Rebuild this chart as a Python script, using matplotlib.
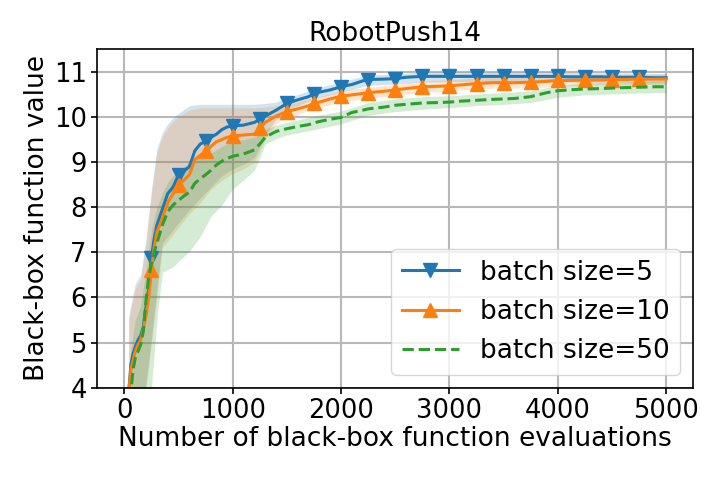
import matplotlib
matplotlib.use("Agg")
import matplotlib.pyplot as plt
import numpy as np

# line data (evaluations)
xs = [40, 60, 80, 100, 125, 150, 175, 200, 225, 250, 275, 300, 350, 400, 450, 500,
      550, 600, 650, 700, 750, 800, 850, 900, 950, 1000, 1100, 1200, 1250, 1300,
      1400, 1500, 1600, 1700, 1750, 1800, 1900, 2000, 2100, 2200, 2250, 2400, 2500,
      2600, 2750, 2900, 3000, 3100, 3250, 3400, 3500, 3600, 3750, 3900, 4000, 4100,
      4250, 4400, 4500, 4600, 4750, 4900, 5000]

mean_b5 = [3.9, 4.5, 4.75, 4.9, 5.05, 5.15, 5.35, 5.8, 6.2, 6.87, 7.3, 7.6, 7.95, 8.3, 8.45, 8.72,
           8.8, 8.9, 9.25, 9.4, 9.46, 9.55, 9.62, 9.72, 9.78, 9.8, 9.82, 9.88, 9.95, 10.02,
           10.15, 10.3, 10.38, 10.45, 10.52, 10.55, 10.6, 10.67, 10.72, 10.8, 10.83, 10.84, 10.85,
           10.88, 10.9, 10.9, 10.9, 10.9, 10.9, 10.9, 10.9, 10.9, 10.9, 10.9, 10.9, 10.89,
           10.89, 10.89, 10.88, 10.88, 10.88, 10.87, 10.87]

mean_b10 = [3.9, 4.4, 4.6, 4.8, 4.95, 5.05, 5.3, 5.6, 6.0, 6.61, 7.1, 7.45, 7.75, 8.1, 8.3, 8.5,
            8.6, 8.72, 9.05, 9.15, 9.24, 9.35, 9.45, 9.5, 9.55, 9.58, 9.6, 9.62, 9.75, 9.88,
            10.02, 10.12, 10.18, 10.25, 10.3, 10.33, 10.4, 10.46, 10.49, 10.52, 10.54, 10.57, 10.6,
            10.63, 10.67, 10.68, 10.69, 10.71, 10.74, 10.76, 10.76, 10.76, 10.77, 10.79, 10.81, 10.81,
            10.82, 10.82, 10.83, 10.83, 10.84, 10.84, 10.84]

mean_b50 = [3.0, 3.9, 4.4, 4.65, 4.8, 4.95, 5.25, 5.95, 6.45, 6.75, 7.0, 7.2, 7.6, 7.9, 8.05, 8.15,
            8.25, 8.33, 8.53, 8.63, 8.72, 8.82, 8.94, 9.02, 9.08, 9.13, 9.18, 9.27, 9.4, 9.55,
            9.68, 9.74, 9.79, 9.83, 9.87, 9.9, 9.95, 9.99, 10.1, 10.15, 10.18, 10.22, 10.26,
            10.28, 10.31, 10.32, 10.33, 10.35, 10.37, 10.39, 10.4, 10.41, 10.45, 10.54, 10.58, 10.6,
            10.62, 10.63, 10.64, 10.65, 10.66, 10.67, 10.67]

# band data
bx = [40, 100, 150, 200, 250, 300, 350, 400, 450, 500, 600, 700, 800, 900, 1000, 1100, 1200,
      1300, 1400, 1500, 1750, 2000, 2250, 2500, 2750, 3000, 3250, 3500, 3750, 4000, 4250, 4500,
      4750, 5000]

hi_b5 = [5.6, 6.3, 6.5, 7.3, 8.4, 9.3, 9.65, 9.85, 9.98, 10.08, 10.25, 10.28, 10.28, 10.28, 10.28,
         10.28, 10.28, 10.3, 10.33, 10.42, 10.62, 10.78, 10.93, 10.95, 11.0, 11.0, 11.0, 11.0, 11.0,
         11.0, 10.98, 10.98, 10.97, 10.96]
lo_b5 = [3.0, 3.3, 3.6, 4.1, 5.1, 6.2, 7.2, 7.35, 7.5, 7.65, 7.95, 8.2, 8.45, 8.7, 8.85, 8.95,
         9.1, 9.6, 9.95, 10.15, 10.4, 10.55, 10.7, 10.73, 10.78, 10.78, 10.78, 10.78, 10.78, 10.78,
         10.77, 10.77, 10.76, 10.76]

hi_b10 = [5.5, 6.2, 6.4, 7.2, 8.3, 9.2, 9.55, 9.75, 9.9, 10.0, 10.15, 10.2, 10.2, 10.2, 10.2,
          10.2, 10.2, 10.22, 10.25, 10.27, 10.42, 10.58, 10.66, 10.72, 10.8, 10.82, 10.87, 10.88,
          10.9, 10.93, 10.94, 10.94, 10.95, 10.95]
lo_b10 = [3.0, 3.3, 3.6, 4.0, 5.0, 6.0, 7.1, 7.25, 7.4, 7.55, 7.86, 8.1, 8.4, 8.6, 8.75, 8.85,
          9.0, 9.5, 9.85, 9.98, 10.18, 10.33, 10.42, 10.48, 10.55, 10.57, 10.63, 10.64, 10.65,
          10.69, 10.7, 10.71, 10.72, 10.72]

hi_b50 = [4.5, 5.5, 5.8, 6.6, 7.5, 8.0, 8.3, 8.55, 8.7, 8.8, 9.0, 9.1, 9.2, 9.35, 9.45, 9.5,
          9.55, 9.72, 9.82, 9.88, 10.02, 10.13, 10.32, 10.4, 10.45, 10.47, 10.51, 10.54, 10.58,
          10.7, 10.75, 10.77, 10.79, 10.8]
lo_b50 = [3.0, 3.0, 3.2, 3.6, 4.0, 5.5, 6.55, 6.62, 6.68, 6.8, 7.02, 7.35, 7.8, 8.05, 8.41, 8.6,
          8.82, 9.4, 9.52, 9.6, 9.72, 9.85, 10.04, 10.12, 10.17, 10.21, 10.25, 10.28, 10.32, 10.44,
          10.49, 10.51, 10.53, 10.54]

labels = ["batch size=5", "batch size=10", "batch size=50"]
colors = ["#1f77b4", "#ff7f0e", "#2ca02c"]

marker_idx = [i for i, v in enumerate(xs) if v % 250 == 0 and 0 < v < 5000]

fig = plt.figure(figsize=(7.2, 4.8), dpi=100)
ax = fig.add_axes([0.1351, 0.1923, 0.8278, 0.7050])

series = [
    (mean_b5, lo_b5, hi_b5, "-", "v"),
    (mean_b10, lo_b10, hi_b10, "-", "^"),
    (mean_b50, lo_b50, hi_b50, "--", None),
]
for (m, lo, hi, ls, mk), lab, c in zip(series, labels, colors):
    ax.plot(xs, m, linestyle=ls, color=c, lw=2.2, marker=mk, markersize=10.5,
            markevery=marker_idx if mk else None, label=lab)
    ax.fill_between(bx, lo, hi, color=c, alpha=0.2, linewidth=0)

ax.set_xlim(-250, 5250)
ax.set_ylim(4, 11.5)
ax.set_xticks([0, 1000, 2000, 3000, 4000, 5000])
ax.set_yticks([4, 5, 6, 7, 8, 9, 10, 11])
ax.grid(True, color="#b8b8b8", linewidth=1.5)
ax.set_axisbelow(True)
ax.tick_params(labelsize=18.5, width=1.2, length=4)
for sp in ax.spines.values():
    sp.set_linewidth(1.2)

ax.set_title("RobotPush14", fontsize=19)
ax.set_xlabel("Number of black-box function evaluations", fontsize=19, labelpad=1)
ax.set_ylabel("Black-box function value", fontsize=19, labelpad=3)
ax.legend(loc="lower right", fontsize=19, handlelength=2.15)

fig.savefig("out.png", dpi=100)
